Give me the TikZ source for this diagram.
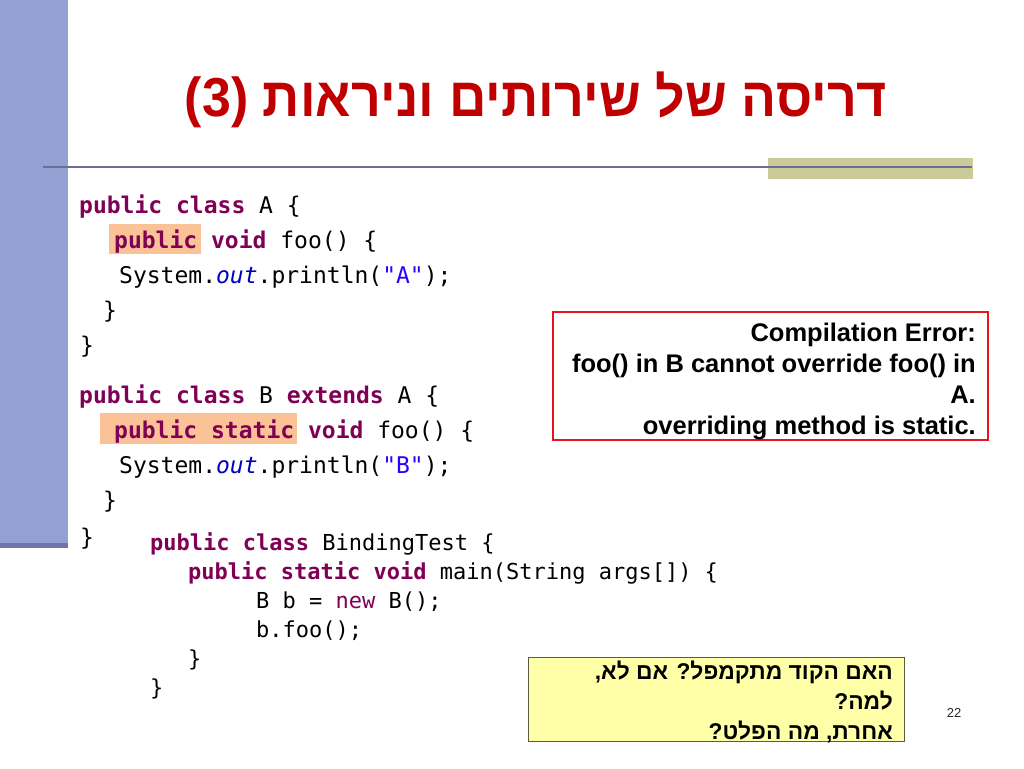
\documentclass[tikz,border=0pt]{standalone}
\usepackage{fontspec}
\TeXXeTstate=1
\newfontfamily\hebfont[Script=Hebrew]{Liberation Sans}
\newfontfamily\codefont{DejaVu Sans Mono}
\newfontfamily\arialfont{Liberation Sans}
\definecolor{barc}{HTML}{949FD2}
\definecolor{bardark}{HTML}{6F75A8}
\definecolor{linec}{HTML}{6B6D9B}
\definecolor{olivec}{HTML}{CBCB9A}
\definecolor{titlered}{HTML}{C00000}
\definecolor{kwc}{HTML}{7F0055}
\definecolor{outc}{HTML}{0000C0}
\definecolor{strc}{HTML}{2A00FF}
\definecolor{hlc}{HTML}{FAC296}
\definecolor{errred}{HTML}{E8141B}
\definecolor{yfill}{HTML}{FFFFA8}
\definecolor{ybord}{HTML}{5A5A46}
\newcommand\jkw[1]{\textcolor{kwc}{\bfseries #1}}
\newcommand\jnew[1]{\textcolor{kwc}{#1}}
\newcommand\jout[1]{\textcolor{outc}{\itshape #1}}
\newcommand\jstr[1]{\textcolor{strc}{#1}}
\begin{document}
\begin{tikzpicture}[x=1pt,y=-1pt,
  codeA/.style={anchor=base west,inner sep=0pt,font=\codefont\fontsize{23}{23}\selectfont},
  codeB/.style={anchor=base west,inner sep=0pt,font=\codefont\fontsize{22}{22}\selectfont},
  errtext/.style={anchor=base east,inner sep=0pt,font=\arialfont\bfseries\fontsize{25.5}{25.5}\selectfont},
  qtext/.style={anchor=base east,inner sep=0pt,font=\hebfont\bfseries\fontsize{22.8}{22.8}\selectfont},
  hl/.style={fill=hlc}]
\useasboundingbox (0,0) rectangle (1024,768);
\fill[white] (0,0) rectangle (1024,768);
% left bar and header decorations
\fill[barc] (0,0) rectangle (68,548);
\fill[bardark] (0,543) rectangle (68,548);
\fill[olivec] (768,158) rectangle (973,179);
\draw[linec,line width=2pt] (43,167) -- (972,167);
% title
\node[text=titlered,inner sep=0pt] (title) at (536,100)
  {\resizebox*{702pt}{56pt}{\hebfont\bfseries\beginR דריסה של שירותים וניראות \beginL(3)\endL\endR}};
% highlights
\fill[hl] (109,224) rectangle (201,254);
\fill[hl] (100,413) rectangle (297,444);
% class A
\node[codeA] (a1) at (79,213) {\jkw{public} \jkw{class} A \{};
\node[codeA] (a2) at (114,248) {\jkw{public} \jkw{void} foo() \{};
\node[codeA] (a3) at (119,283) {System.\jout{out}.println(\jstr{"A"});};
\node[codeA] (a4) at (103,318) {\}};
\node[codeA] (a5) at (80,353) {\}};
% class B
\node[codeA] (b1) at (79,403) {\jkw{public} \jkw{class} B \jkw{extends} A \{};
\node[codeA] (b2) at (114,438) {\jkw{public} \jkw{static} \jkw{void} foo() \{};
\node[codeA] (b3) at (119,473) {System.\jout{out}.println(\jstr{"B"});};
\node[codeA] (b4) at (103,508) {\}};
\node[codeA] (b5) at (80,545) {\}};
% BindingTest
\node[codeB] (c1) at (150,550) {\jkw{public} \jkw{class} BindingTest \{};
\node[codeB] (c2) at (188,579) {\jkw{public} \jkw{static} \jkw{void} main(String args[]) \{};
\node[codeB] (c3) at (256,608) {B b = \jnew{new} B();};
\node[codeB] (c4) at (256,637) {b.foo();};
\node[codeB] (c5) at (188,666) {\}};
\node[codeB] (c6) at (150,695) {\}};
% error box
\node[draw=errred,line width=2pt,fill=white,anchor=north west,inner sep=0pt,
  minimum width=435pt,minimum height=128pt] (err) at (552,311) {};
\node[errtext] (e1) at (976,341) {Compilation Error:};
\node[errtext] (e2) at (976,372) {foo() in B cannot override foo() in};
\node[errtext] (e3) at (976,403) {A.};
\node[errtext] (e4) at (976,434) {overriding method is static.};
% question box
\node[draw=ybord,line width=1pt,fill=yfill,anchor=north west,inner sep=0pt,
  minimum width=376pt,minimum height=84pt] (q) at (528,657) {};
\node[qtext] (q1) at (893,679) {\beginR האם הקוד מתקמפל? אם לא,\endR};
\node[qtext] (q2) at (893,709) {\beginR למה?\endR};
\node[qtext] (q3) at (893,739) {\beginR אחרת, מה הפלט?\endR};
% page number
\node[inner sep=0pt,font=\arialfont\fontsize{13}{13}\selectfont,text=black!85] (pg) at (954,713) {22};
\end{tikzpicture}
\end{document}
